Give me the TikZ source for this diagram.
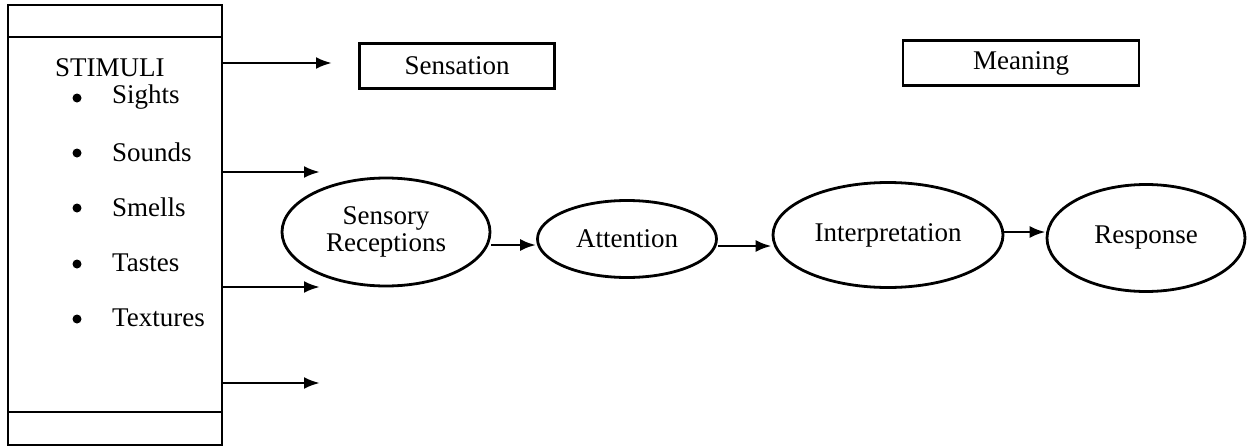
\documentclass[tikz,border=0pt]{standalone}
\usepackage{fontspec}
\setmainfont{Liberation Serif}
\usetikzlibrary{arrows.meta,shapes.geometric}
\begin{document}
\begin{tikzpicture}[x=1pt,y=-1pt,
  every node/.style={font=\fontsize{27}{31}\selectfont},
  ln/.style={line width=2.8pt},
  arr/.style={ln,-{Latex[length=16pt,width=12pt]}},
  oval/.style={ellipse,draw,ln,inner sep=0pt},
  tag/.style={rectangle,draw,ln,inner sep=0pt},
  item/.style={anchor=west,inner sep=0pt}]
\useasboundingbox (0,0) rectangle (1249,447);
% stimuli column
\node[draw,ln,rectangle,minimum width=214pt,minimum height=440pt,inner sep=0pt] (stim) at (115,225) {};
\draw[ln] (8,37) -- (222,37);
\draw[ln] (8,412) -- (222,412);
\node[item] (title) at (55,68) {STIMULI};
\foreach \y/\t [count=\i] in {97/Sights,152/Sounds,207/Smells,263/Tastes,318/Textures}{
  \fill (77,\y+1) circle (4.5pt);
  \node[item] (it\i) at (112,\y) {\t};
}
% labels
\node[tag,minimum width=195pt,minimum height=45pt] (sens) at (457,66) {Sensation};
\node[tag,minimum width=236pt,minimum height=45pt] (mean) at (1021,63) {Meaning};
% process stages
\node[oval,minimum width=208pt,minimum height=108pt,align=center] (rec) at (386,232) {Sensory\\[-4pt]Receptions};
\node[oval,minimum width=179pt,minimum height=77pt] (att) at (627,239) {Attention};
\node[oval,minimum width=230pt,minimum height=105pt] (int) at (888,235) {Interpretation};
\node[oval,minimum width=198pt,minimum height=107pt] (resp) at (1146,238) {Response};
% arrow ends
\coordinate (a1) at (222,63);  \coordinate (b1) at (332,63);
\coordinate (a2) at (222,172); \coordinate (b2) at (320,172);
\coordinate (a3) at (222,287); \coordinate (b3) at (320,287);
\coordinate (a4) at (222,383); \coordinate (b4) at (320,383);
\draw[arr] (a1) -- (b1);
\draw[arr] (a2) -- (b2);
\draw[arr] (a3) -- (b3);
\draw[arr] (a4) -- (b4);
\draw[arr] (rec.east |- 0,245) -- (att.west |- 0,245);
\draw[arr] (att.east |- 0,246) -- (int.west |- 0,246);
\draw[arr] (int.east |- 0,232) -- (resp.west |- 0,232);
\end{tikzpicture}
\end{document}
